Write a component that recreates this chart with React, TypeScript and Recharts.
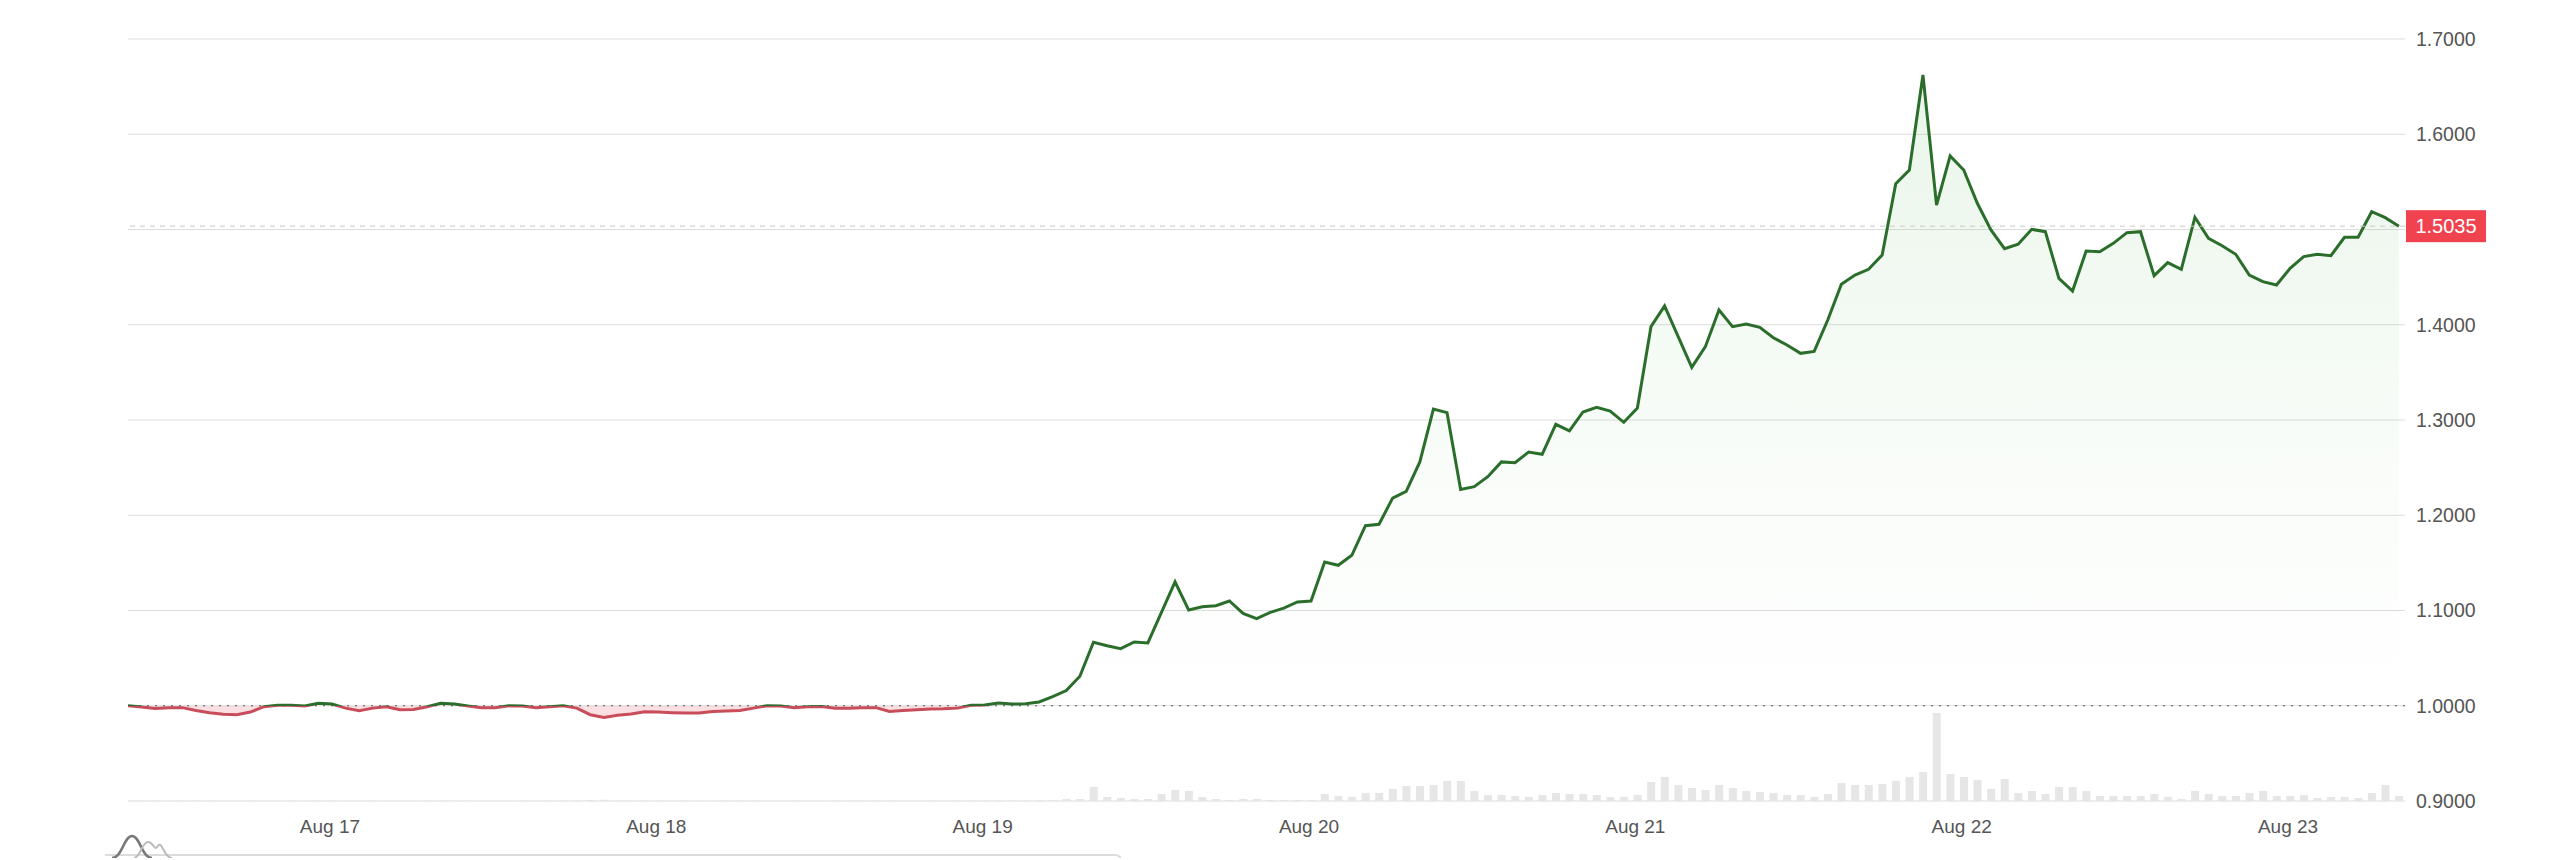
import React from "react";
import {
  ComposedChart,
  Area,
  Bar,
  XAxis,
  YAxis,
  CartesianGrid,
  ReferenceLine,
} from "recharts";

// hourly closes, first point Aug 16 ~09:09
const prices = [
  1.0, 0.9986, 0.9972, 0.9979, 0.998, 0.995, 0.9927, 0.991, 0.9906, 0.9934, 0.999, 1.0004,
  1.0004, 0.9997, 1.0025, 1.0018, 0.9975, 0.9948, 0.9975, 0.999, 0.9958, 0.996, 0.999, 1.0025,
  1.0018, 0.9997, 0.998, 0.9979, 1.0, 0.9997, 0.998, 0.999, 1.0, 0.9975, 0.9906, 0.9878,
  0.99, 0.9913, 0.9937, 0.9934, 0.9927, 0.9923, 0.9923, 0.994, 0.9944, 0.995, 0.9975, 1.0,
  0.9997, 0.9979, 0.999, 0.9993, 0.9975, 0.9975, 0.9979, 0.998, 0.994, 0.995, 0.9958, 0.9965,
  0.9968, 0.9975, 1.0004, 1.0007, 1.0028, 1.0018, 1.002, 1.004, 1.0095, 1.016, 1.031, 1.0666,
  1.063, 1.06, 1.067, 1.066, 1.098, 1.13, 1.1005, 1.104, 1.105, 1.11, 1.097, 1.0915,
  1.098, 1.1025, 1.109, 1.11, 1.151, 1.1475, 1.158, 1.189, 1.1905, 1.218, 1.225, 1.256,
  1.3115, 1.3077, 1.227, 1.23, 1.2405, 1.256, 1.2552, 1.2664, 1.264, 1.2955, 1.2885, 1.3084,
  1.3133, 1.3094, 1.2976, 1.3126, 1.398, 1.4197, 1.3875, 1.3553, 1.377, 1.4155, 1.398, 1.4008,
  1.3973, 1.3864, 1.3787, 1.37, 1.372, 1.405, 1.4425, 1.4522, 1.4582, 1.4732, 1.548, 1.5625,
  1.6622, 1.5257, 1.5772, 1.5625, 1.5275, 1.4995, 1.4799, 1.4845, 1.5002, 1.4977, 1.4487, 1.4354,
  1.4774, 1.4767, 1.4855, 1.4967, 1.4977, 1.4515, 1.4652, 1.4582, 1.5128, 1.4907, 1.483, 1.474,
  1.4522, 1.4452, 1.4417, 1.4593, 1.4715, 1.474, 1.4725, 1.4918, 1.4918, 1.5187, 1.5124, 1.5035,
];

const volumes = [
  0.5, 0.4, 0.5, 0.3, 0.4, 0.6, 0.5, 0.4, 0.3, 0.5, 0.4, 0.3,
  0.4, 0.3, 0.5, 0.4, 0.3, 0.4, 0.5, 0.3, 0.4, 0.3, 0.4, 0.5,
  0.4, 0.3, 0.3, 0.4, 0.3, 0.4, 0.3, 0.4, 0.5, 0.6, 1.0, 1.2,
  0.8, 0.5, 0.4, 0.4, 0.3, 0.4, 0.3, 0.3, 0.4, 0.4, 0.5, 0.4,
  0.3, 0.4, 0.3, 0.3, 0.4, 0.5, 0.4, 0.3, 0.6, 0.4, 0.3, 0.4,
  0.3, 0.4, 0.5, 0.6, 0.8, 0.6, 0.7, 0.8, 1, 2, 2, 14,
  4, 3, 2, 2, 7, 11, 10, 4, 2, 1, 2, 2,
  1, 1, 1, 1, 7, 5, 4, 8, 8, 12, 15, 15,
  16, 20, 20, 10, 6, 6, 5, 4, 6, 8, 7, 7,
  6, 4, 4, 6, 19, 24, 16, 13, 11, 16, 13, 10,
  9, 8, 6, 6, 4, 7, 18, 16, 16, 17, 20, 24,
  29, 88, 27, 24, 21, 12, 22, 8, 10, 7, 14, 14,
  10, 5, 5, 5, 5, 7, 4, 2, 10, 7, 5, 5,
  8, 10, 5, 5, 6, 3, 4, 4, 3, 8, 16, 5,
];

// hours counted from Aug 16 00:00
const START_HOUR = 9.15;
const dayTicks = [24, 48, 72, 96, 120, 144, 168];
const dayLabels = ["Aug 17", "Aug 18", "Aug 19", "Aug 20", "Aug 21", "Aug 22", "Aug 23"];
const priceTicks = [0.9, 1.0, 1.1, 1.2, 1.3, 1.4, 1.5, 1.6, 1.7];
const BASE = 1.0;

const GREEN = "#2b6e2b";
const RED = "#c94c5a";
const FONT = "'Liberation Sans', Arial, sans-serif";

const data = prices.map((p, i) => ({ t: START_HOUR + i, price: p, volume: volumes[i] }));
const last = prices[prices.length - 1];
const maxP = Math.max(...prices);
const minP = Math.min(...prices);
const split = (maxP - BASE) / (maxP - minP);

const PriceBadge = (props: any) => {
  const vb = props.viewBox || {};
  const x = vb.x + vb.width + 1;
  const y = vb.y;
  return (
    <g>
      <rect x={x} y={y - 16} width={80} height={32} fill="#f0434f" />
      <text
        x={x + 40}
        y={y}
        dy="0.35em"
        textAnchor="middle"
        fill="#ffffff"
        fontSize={20}
        fontFamily={FONT}
      >
        {last.toFixed(4)}
      </text>
    </g>
  );
};

// the badge covers the tick label next to the last price
const PriceTick = (props: any) => {
  const { x, y, payload } = props;
  if (Math.abs(payload.value - last) < 0.02) return null;
  return (
    <text x={x} y={y} dy="0.35em" textAnchor="start" fill="#555" fontSize={19.5} fontFamily={FONT}>
      {Number(payload.value).toFixed(4)}
    </text>
  );
};

export default function App() {
  return (
    <div style={{ position: "relative", width: 2544, height: 850, background: "#fff" }}>
      <ComposedChart
        width={2544}
        height={840}
        data={data}
        margin={{ top: 31, right: 0, left: 120, bottom: 0 }}
      >
        <defs>
          <linearGradient id="splitStroke" x1="0" y1="0" x2="0" y2="1">
            <stop offset={split} stopColor={GREEN} />
            <stop offset={split} stopColor={RED} />
          </linearGradient>
          <linearGradient id="splitFill" x1="0" y1="0" x2="0" y2="1">
            <stop offset={0} stopColor="#4caf50" stopOpacity={0.2} />
            <stop offset={split * 0.6} stopColor="#4caf50" stopOpacity={0.06} />
            <stop offset={split} stopColor="#4caf50" stopOpacity={0} />
            <stop offset={split} stopColor="#ef8a96" stopOpacity={0.45} />
            <stop offset={1} stopColor="#ef8a96" stopOpacity={0.45} />
          </linearGradient>
        </defs>
        <CartesianGrid yAxisId="price" vertical={false} stroke="#dddddd" />
        <XAxis
          dataKey="t"
          type="number"
          domain={[START_HOUR, START_HOUR + 167.45]}
          allowDataOverflow
          ticks={dayTicks}
          tickFormatter={(v: number) => dayLabels[dayTicks.indexOf(v)]}
          axisLine={false}
          tickLine={false}
          tickSize={0}
          tickMargin={19}
          height={47}
          tick={{ fill: "#555", fontSize: 19, fontFamily: FONT }}
        />
        <YAxis
          yAxisId="price"
          orientation="right"
          type="number"
          domain={[0.9, 1.7]}
          ticks={priceTicks}
          axisLine={false}
          tickLine={false}
          tickSize={0}
          tickMargin={11}
          width={147}
          tick={<PriceTick />}
        />
        <YAxis yAxisId="vol" hide domain={[0, 762]} />
        <Bar
          yAxisId="vol"
          dataKey="volume"
          fill="#e6e6e6"
          barSize={8}
          isAnimationActive={false}
        />
        <ReferenceLine yAxisId="price" y={BASE} stroke="#555" strokeDasharray="2 6" />
        <Area
          yAxisId="price"
          type="linear"
          dataKey="price"
          baseValue={BASE}
          stroke="url(#splitStroke)"
          strokeWidth={3}
          fill="url(#splitFill)"
          dot={false}
          activeDot={false}
          isAnimationActive={false}
        />
        <ReferenceLine
          yAxisId="price"
          y={last}
          stroke="#c8c8c8"
          strokeDasharray="5 5"
          label={<PriceBadge />}
        />
      </ComposedChart>
      <div
        style={{
          position: "absolute",
          left: 97,
          top: 846,
          width: 1016,
          height: 20,
          borderTop: "2px solid #dcdcdc",
          borderRight: "2px solid #dcdcdc",
          borderTopRightRadius: 8,
        }}
      />
      <svg style={{ position: "absolute", left: 100, top: 826 }} width={90} height={26}>
        <path d="M4 24 C 14 24, 16 2, 24 2 C 32 2, 34 24, 44 24" fill="none" stroke="#777" strokeWidth={2.5} />
        <path d="M26 24 C 32 24, 34 8, 40 8 C 46 8, 46 18, 50 12 C 54 6, 56 24, 64 24" fill="none" stroke="#bbb" strokeWidth={2} />
      </svg>
    </div>
  );
}
